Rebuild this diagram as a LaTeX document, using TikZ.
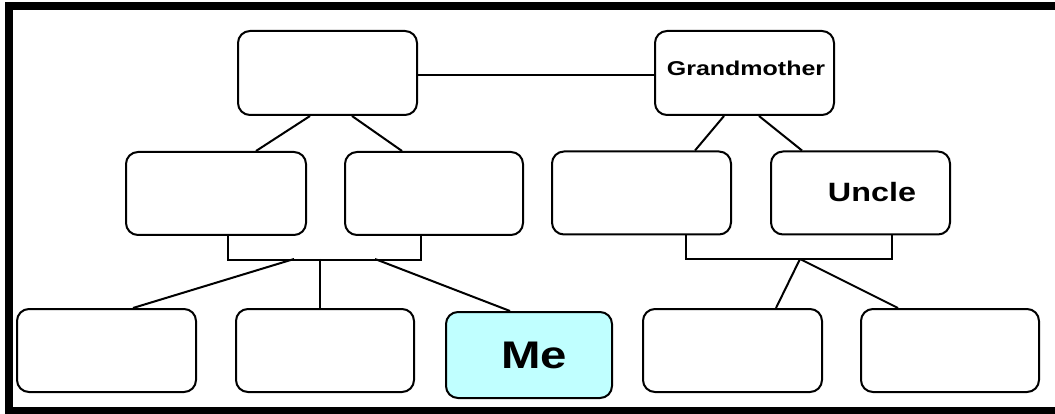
\documentclass[tikz,border=0pt]{standalone}
\usepackage{fontspec}
\setmainfont{Liberation Sans}
\definecolor{mecyan}{HTML}{C0FFFF}
\tikzset{
  famlybox/.style={draw=black, line width=2pt, rounded corners=12pt, fill=white,
    minimum width=179pt, minimum height=83pt, inner sep=0pt},
  link/.style={draw=black, line width=2pt},
}
\begin{document}
\begin{tikzpicture}[x=1pt,y=-1pt]
\useasboundingbox (0,0) rectangle (1055,414);
\clip (0,0) rectangle (1055,414);
\fill[white] (0,0) rectangle (1055,414);
\draw[line width=8pt] (9,6.5) rectangle (1070,410.5);
% row 1
\node[famlybox, minimum height=84pt] (gf) at (327.5,73) {};
\node[famlybox, minimum height=84pt] (gm) at (744.5,73) {};
\node[font=\bfseries\fontsize{20}{20}\selectfont] (gmt) at (746,68) {\scalebox{1.25}[1]{Grandmother}};
% row 2
\node[famlybox, minimum width=180pt] (a) at (216,193.5) {};
\node[famlybox, minimum width=178pt] (b) at (434,193.5) {};
\node[famlybox] (c) at (641.5,193) {};
\node[famlybox] (u) at (860.5,193) {};
\node[font=\bfseries\fontsize{26.5}{26.5}\selectfont] (ut) at (872,192) {\scalebox{1.22}[1]{Uncle}};
% row 3
\node[famlybox] (r1) at (106.5,350.5) {};
\node[famlybox, minimum width=178pt] (r2) at (325,350.5) {};
\node[famlybox, fill=mecyan, minimum width=166pt, minimum height=86pt] (me) at (529,355) {};
\node[font=\bfseries\fontsize{38.5}{38.5}\selectfont] (met) at (534,355) {\scalebox{1.23}[1]{Me}};
\node[famlybox] (r4) at (732.5,350.5) {};
\node[famlybox, minimum width=178pt] (r5) at (950,350.5) {};
% couple line
\draw[link] ([yshift=-2pt]gf.east) -- ([yshift=-2pt]gm.west);
% parents to children (row 1 -> row 2)
\draw[link] ([xshift=-17.5pt]gf.south) -- ([xshift=40pt]a.north);
\draw[link] ([xshift=24.5pt]gf.south) -- ([xshift=-32pt]b.north);
\draw[link] ([xshift=-20.5pt]gm.south) -- ([xshift=53.5pt]c.north);
\draw[link] ([xshift=14.5pt]gm.south) -- ([xshift=-58.5pt]u.north);
% left bracket
\coordinate (lb1) at (294,259);
\coordinate (lb2) at (320,259);
\coordinate (lb3) at (375,259);
\draw[link] ([xshift=12pt]a.south) -- ++(0,24) -| ([xshift=-13pt]b.south);
\draw[link] (lb1) -- ([xshift=26.5pt]r1.north);
\draw[link] (lb2) -- ([xshift=-5pt]r2.north);
\draw[link] (lb3) -- ([xshift=-19pt]me.north);
% right bracket
\coordinate (rb) at (800,259);
\draw[link] ([xshift=44.5pt]c.south) -- ++(0,24) -| ([xshift=31.5pt]u.south);
\draw[link] (rb) -- ([xshift=43.5pt]r4.north);
\draw[link] (rb) -- ([xshift=-52pt]r5.north);
\end{tikzpicture}
\end{document}
